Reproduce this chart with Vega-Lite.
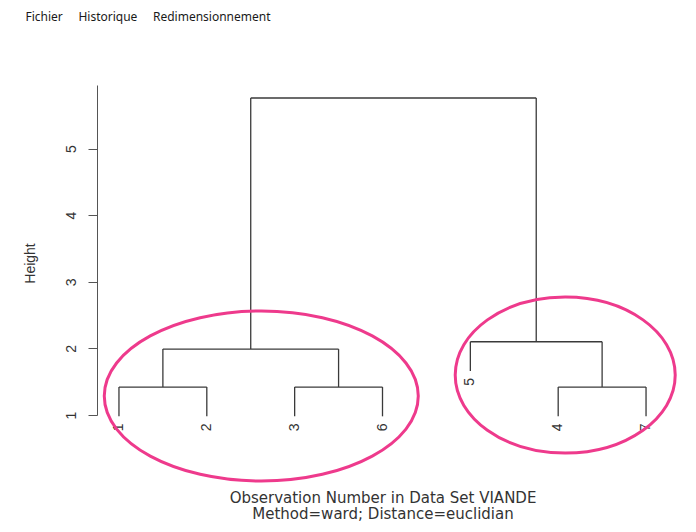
{
  "$schema": "https://vega.github.io/schema/vega-lite/v6.json",
  "width": 571,
  "height": 330,
  "autosize": {"type": "none"},
  "padding": {"left": 97, "top": 85, "right": 28, "bottom": 117},
  "background": "white",
  "config": {"view": {"stroke": null}, "font": "Liberation Sans"},
  "title": {
    "text": "Fichier\u00a0\u00a0\u00a0\u00a0\u00a0Historique\u00a0\u00a0\u00a0\u00a0\u00a0Redimensionnement",
    "anchor": "start",
    "frame": "group",
    "orient": "top",
    "font": "Noto Sans",
    "fontSize": 12,
    "fontWeight": "normal",
    "color": "#1a1a1a",
    "dx": -71.5,
    "offset": 61
  },
  "datasets": {
    "merges": [
      {"merge": "1-2", "xl": 1, "xr": 2, "height": 1.42, "bl": 0.98, "br": 0.98},
      {"merge": "3-6", "xl": 3, "xr": 4, "height": 1.42, "bl": 0.98, "br": 0.98},
      {"merge": "4-7", "xl": 6, "xr": 7, "height": 1.42, "bl": 0.98, "br": 0.98},
      {"merge": "(1,2)-(3,6)", "xl": 1.5, "xr": 3.5, "height": 1.99, "bl": 1.42, "br": 1.42},
      {"merge": "5-(4,7)", "xl": 5, "xr": 6.5, "height": 2.1, "bl": 1.66, "br": 1.42},
      {"merge": "all", "xl": 2.5, "xr": 5.75, "height": 5.76, "bl": 1.99, "br": 2.1}
    ],
    "leaves": [
      {"label": "1", "pos": 1, "bottom": 0.98},
      {"label": "2", "pos": 2, "bottom": 0.98},
      {"label": "3", "pos": 3, "bottom": 0.98},
      {"label": "6", "pos": 4, "bottom": 0.98},
      {"label": "5", "pos": 5, "bottom": 1.66},
      {"label": "4", "pos": 6, "bottom": 0.98},
      {"label": "7", "pos": 7, "bottom": 0.98}
    ],
    "clusters": [
      {"group": "A", "cx": 2.62, "cy": 1.285},
      {"group": "B", "cx": 6.08, "cy": 1.6}
    ]
  },
  "layer": [
    {
      "data": {"name": "merges"},
      "mark": {"type": "rule", "color": "#3a3a3a", "strokeWidth": 1.3},
      "encoding": {
        "x": {
          "field": "xl", "type": "quantitative",
          "scale": {"domain": [0.75, 7.25], "nice": false, "zero": false},
          "axis": {
            "domain": false, "ticks": false, "labels": false, "grid": false,
            "title": ["Observation Number in Data Set VIANDE", "Method=ward; Distance=euclidian"],
            "titleFont": "DejaVu Sans",
            "titleFontSize": 15,
            "titleFontWeight": "normal",
            "titleColor": "#333333",
            "titleLineHeight": 16.5,
            "titleBaseline": "alphabetic",
            "titleY": 87
          }
        },
        "x2": {"field": "xr"},
        "y": {
          "field": "height", "type": "quantitative",
          "scale": {"domain": [1, 5.955], "nice": false, "zero": false},
          "axis": {
            "values": [1, 2, 3, 4, 5],
            "format": "d",
            "grid": false,
            "title": "Height",
            "tickSize": 9,
            "tickColor": "#555555",
            "domainColor": "#555555",
            "labelAngle": 270,
            "labelAlign": "center",
            "labelBaseline": "bottom",
            "labelPadding": 10,
            "labelFontSize": 14,
            "labelColor": "#333333",
            "titleFontSize": 14,
            "titleFontWeight": "normal",
            "titleColor": "#333333",
            "titleAngle": 270,
            "titleAlign": "center",
            "titleBaseline": "middle",
            "titleX": -67,
            "titleY": 178
          }
        }
      }
    },
    {
      "data": {"name": "merges"},
      "mark": {"type": "rule", "color": "#3a3a3a", "strokeWidth": 1.3},
      "encoding": {
        "x": {"field": "xl", "type": "quantitative"},
        "y": {"field": "bl", "type": "quantitative"},
        "y2": {"field": "height"}
      }
    },
    {
      "data": {"name": "merges"},
      "mark": {"type": "rule", "color": "#3a3a3a", "strokeWidth": 1.3},
      "encoding": {
        "x": {"field": "xr", "type": "quantitative"},
        "y": {"field": "br", "type": "quantitative"},
        "y2": {"field": "height"}
      }
    },
    {
      "data": {"name": "leaves"},
      "mark": {"type": "text", "angle": 270, "align": "right", "baseline": "middle", "dx": -7, "fontSize": 14, "color": "#333333", "font": "Liberation Sans"},
      "encoding": {
        "x": {"field": "pos", "type": "quantitative"},
        "y": {"field": "bottom", "type": "quantitative"},
        "text": {"field": "label"}
      }
    },
    {
      "data": {"name": "clusters"},
      "transform": [{"filter": "datum.group === 'A'"}],
      "mark": {
        "type": "point", "filled": false, "stroke": "#ee3a8c", "strokeWidth": 3, "opacity": 1, "size": 40000,
        "shape": "M -1.57 0 C -1.57 -0.469 -0.867 -0.85 0 -0.85 C 0.867 -0.85 1.57 -0.469 1.57 0 C 1.57 0.469 0.867 0.85 0 0.85 C -0.867 0.85 -1.57 0.469 -1.57 0 Z"
      },
      "encoding": {
        "x": {"field": "cx", "type": "quantitative"},
        "y": {"field": "cy", "type": "quantitative"}
      }
    },
    {
      "data": {"name": "clusters"},
      "transform": [{"filter": "datum.group === 'B'"}],
      "mark": {
        "type": "point", "filled": false, "stroke": "#ee3a8c", "strokeWidth": 3, "opacity": 1, "size": 40000,
        "shape": "M -1.1 0 C -1.1 -0.431 -0.608 -0.78 0 -0.78 C 0.608 -0.78 1.1 -0.431 1.1 0 C 1.1 0.431 0.608 0.78 0 0.78 C -0.608 0.78 -1.1 0.431 -1.1 0 Z"
      },
      "encoding": {
        "x": {"field": "cx", "type": "quantitative"},
        "y": {"field": "cy", "type": "quantitative"}
      }
    }
  ]
}
